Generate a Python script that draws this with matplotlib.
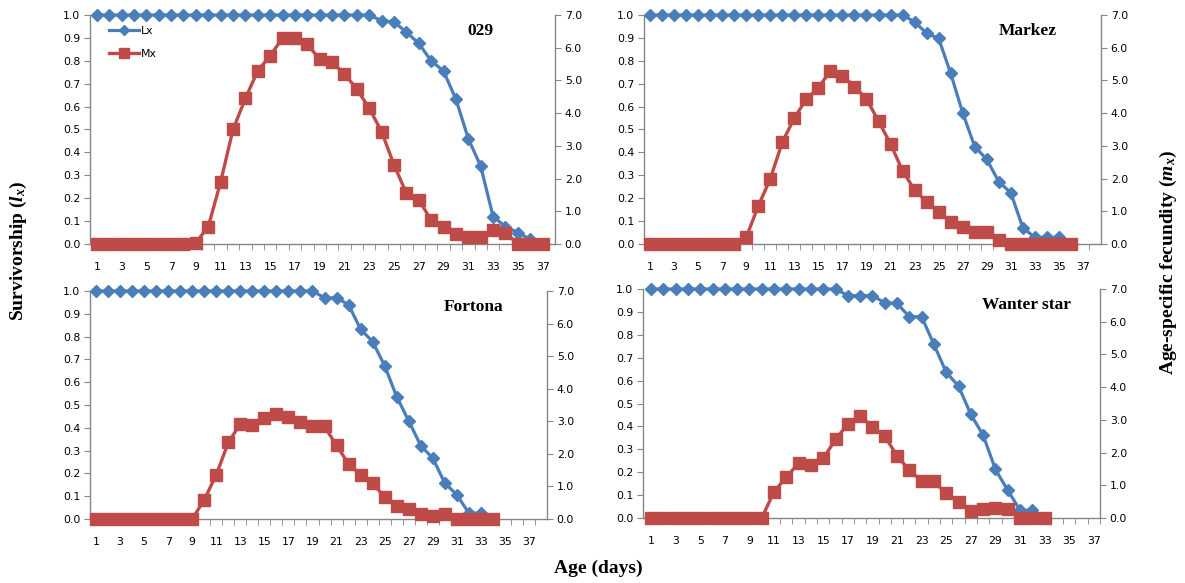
import matplotlib
matplotlib.use('Agg')
import matplotlib.pyplot as plt
import numpy as np

plt.rcParams['mathtext.fontset'] = 'custom'
plt.rcParams['mathtext.rm'] = 'Liberation Serif:bold'
plt.rcParams['mathtext.it'] = 'Liberation Serif:italic:bold'
plt.rcParams['mathtext.bf'] = 'Liberation Serif:bold'

# survivorship (lx) and age-specific fecundity (mx) per variety
lx_029 = [1.0]*23 + [0.975, 0.97, 0.925, 0.876, 0.80, 0.755, 0.632, 0.46, 0.34, 0.12, 0.076, 0.05, 0.02]
mx_029 = [0]*8 + [0.04, 0.53, 1.9, 3.5, 4.45, 5.3, 5.75, 6.3, 6.3, 6.1, 5.65, 5.55, 5.2, 4.73,
                  4.15, 3.43, 2.42, 1.55, 1.35, 0.73, 0.53, 0.31, 0.2, 0.22, 0.43, 0.35, 0, 0, 0]

lx_markez = [1.0]*22 + [0.97, 0.92, 0.898, 0.745, 0.573, 0.425, 0.37, 0.272, 0.224, 0.071, 0.029, 0.029, 0.029]
mx_markez = [0]*8 + [0.2, 1.16, 1.99, 3.11, 3.85, 4.43, 4.78, 5.29, 5.15, 4.81, 4.43, 3.76, 3.06, 2.24,
                     1.65, 1.29, 0.99, 0.68, 0.53, 0.36, 0.36, 0.12, 0, 0, 0, 0, 0, 0]

lx_fortona = [1.0]*19 + [0.97, 0.97, 0.94, 0.832, 0.778, 0.672, 0.537, 0.43, 0.322, 0.267, 0.158, 0.106, 0.026, 0.026]
mx_fortona = [0]*9 + [0.59, 1.36, 2.35, 2.92, 2.89, 3.1, 3.23, 3.13, 2.99, 2.87, 2.84, 2.26, 1.69, 1.36,
                      1.1, 0.67, 0.41, 0.31, 0.15, 0.08, 0.15, 0, 0, 0, 0]

lx_wanter = [1.0]*16 + [0.971, 0.971, 0.971, 0.94, 0.937, 0.879, 0.879, 0.758, 0.636, 0.576, 0.452, 0.362,
                        0.212, 0.121, 0.034, 0.034]
mx_wanter = [0]*10 + [0.8, 1.25, 1.68, 1.63, 1.82, 2.4, 2.87, 3.11, 2.79, 2.5, 1.9, 1.46, 1.13, 1.12,
                      0.75, 0.49, 0.21, 0.26, 0.31, 0.26, 0, 0, 0]

panels = [
    ("029", lx_029, mx_029, [90, 555, 15, 244], (0.45, 38.0)),
    ("Markez", lx_markez, mx_markez, [644, 1101, 15, 244], (0.5, 38.5)),
    ("Fortona", lx_fortona, mx_fortona, [90, 547, 291, 519], (0.5, 38.5)),
    ("Wanter star", lx_wanter, mx_wanter, [643, 1100, 289, 518], (0.35, 37.5)),
]

W, H = 1185, 583
blue = '#4A7EBB'
red = '#BE4B48'
grey = '#868686'
tickfont = 7.8
serif = 'Liberation Serif'

fig = plt.figure(figsize=(W/100, H/100), dpi=100)

for i, (name, lx, mx, (l, r, t, b), xl) in enumerate(panels):
    ax = fig.add_axes([l/W, (H-b)/H, (r-l)/W, (b-t)/H])
    ax2 = ax.twinx()
    d_lx = np.arange(1, len(lx)+1)
    d_mx = np.arange(1, len(mx)+1)
    hl, = ax.plot(d_lx, lx, color=blue, lw=2.3, marker='D', ms=5.8, label='Lx', clip_on=False, zorder=3)
    hm, = ax2.plot(d_mx, mx, color=red, lw=2.4, marker='s', ms=8.2, label='Mx', clip_on=False)

    ax.set_xlim(*xl)
    ax.set_ylim(0, 1.0)
    ax2.set_ylim(0, 7.0)
    ax.set_yticks(np.arange(0, 1.01, 0.1))
    ax.set_yticklabels(['%.1f' % v for v in np.arange(0, 1.01, 0.1)])
    ax2.set_yticks(np.arange(0, 7.01, 1.0))
    ax2.set_yticklabels(['%.1f' % v for v in np.arange(0, 7.01, 1.0)])
    ax.set_xticks(np.arange(1, 38, 2))
    ax.set_xticks(np.arange(1.5, 38, 1), minor=True)
    ax.tick_params(axis='x', which='major', length=0, pad=13, labelsize=tickfont)
    ax.tick_params(axis='x', which='minor', length=4, color=grey, direction='out')
    ax.tick_params(axis='y', length=4, color=grey, labelsize=tickfont, pad=3)
    ax2.tick_params(axis='y', length=4, color=grey, labelsize=tickfont, pad=3)

    for a in (ax, ax2):
        a.spines['top'].set_visible(False)
        for s in ('left', 'right', 'bottom'):
            a.spines[s].set_color(grey)
            a.spines[s].set_linewidth(1.0)
    ax.spines['right'].set_visible(False)
    ax2.spines['left'].set_visible(False)
    ax2.spines['bottom'].set_visible(False)
    ax.set_facecolor('none')

    ax.text(0.84, 0.93, name, transform=ax.transAxes, ha='center', va='center',
            fontsize=12.5, fontweight='bold', family=serif)

    if i == 0:
        ax.legend([hl, hm], ['Lx', 'Mx'], loc='upper left', bbox_to_anchor=(0.02, 0.995),
                  frameon=False, fontsize=7.8, handlelength=2.8, labelspacing=1.2,
                  handletextpad=0.1, markerscale=0.9)

fig.text(18/W, 1 - 251/H, 'Survivorship ($l_x$)', rotation=90, ha='center', va='center',
         fontsize=14, fontweight='bold', family=serif)
fig.text(1168/W, 1 - 262/H, 'Age-specific fecundity ($m_x$)', rotation=90, ha='center',
         va='center', fontsize=14, fontweight='bold', family=serif)
fig.text(598/W, 1 - 568/H, 'Age (days)', ha='center', va='center',
         fontsize=14, fontweight='bold', family=serif)

plt.savefig('out.png', dpi=100)
